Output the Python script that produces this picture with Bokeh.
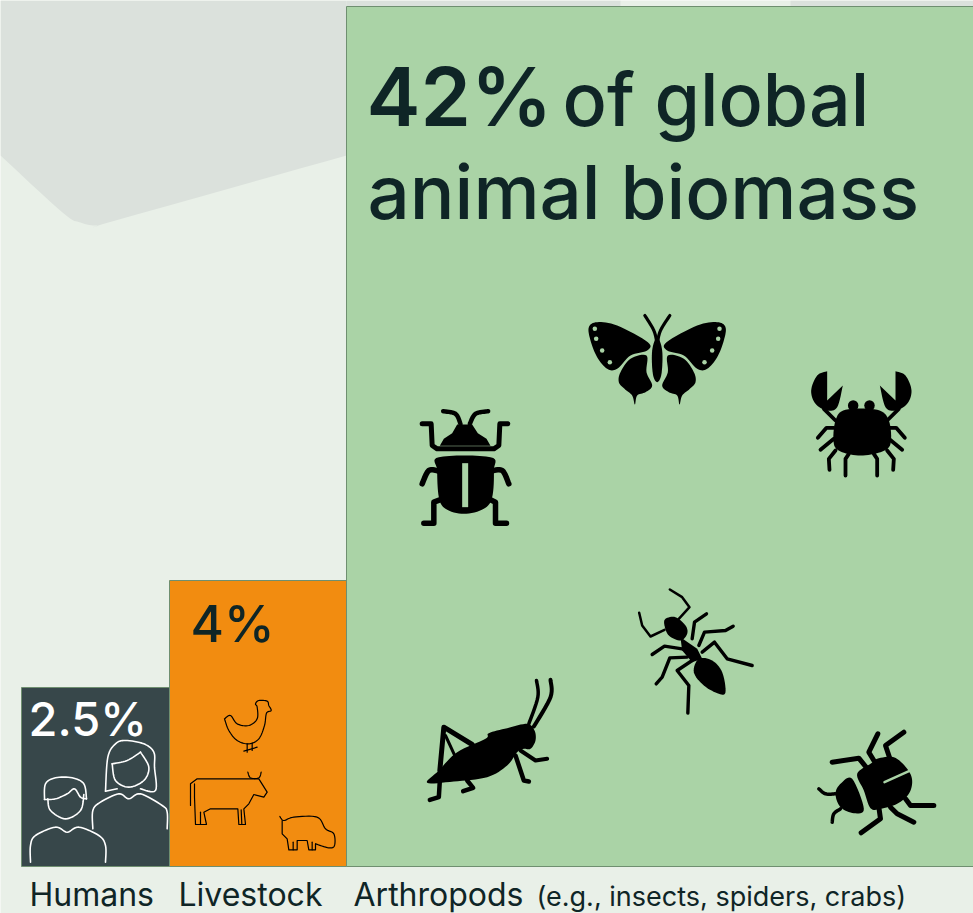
from bokeh.plotting import figure
from bokeh.models import Range1d
from bokeh.core.properties import value
from bokeh.embed import file_html
from bokeh.resources import INLINE

# Data
categories = ["Humans", "Livestock", "Arthropods"]
percent_labels = ["2.5%", "4%", "42%"]
bar_width = [148, 177, 628]
bar_height = [179, 286, 860]
bar_colors = ["#37474A", "#F28C10", "#AAD3A6"]

BG = "#E9F0E8"
SHADE = "#DBE1DC"
DARK = "#0F2526"
EDGE = "#6F8F70"
GREEN = "#AAD3A6"
FONT = "Inter Medium"
W, H = 973, 913
BASE_Y = 866
START_X = 21

p = figure(width=W, height=H, x_range=Range1d(0, W), y_range=Range1d(H, 0),
           output_backend="svg", toolbar_location=None, min_border=0,
           background_fill_color=BG, border_fill_color=BG, outline_line_color=None)
p.axis.visible = False
p.grid.visible = False
p.styles = {"position": "absolute", "left": "0px", "top": "0px"}


def smooth(pts, closed=False, n=8):
    if closed:
        q = [pts[-1]] + list(pts) + [pts[0], pts[1]]
    else:
        q = [pts[0]] + list(pts) + [pts[-1]]
    out = []
    for i in range(1, len(q) - 2):
        a, b, c, d = q[i - 1], q[i], q[i + 1], q[i + 2]
        for k in range(n):
            t = k / n
            f = lambda u: 0.5 * (2 * b[u] + (c[u] - a[u]) * t + (2 * a[u] - 5 * b[u] + 4 * c[u] - d[u]) * t * t
                                 + (3 * b[u] - a[u] - 3 * c[u] + d[u]) * t ** 3)
            out.append((f(0), f(1)))
    out.append(q[-2])
    return out


def stroke(o, pts, w, color="black", sm=False):
    if sm:
        pts = smooth(pts)
    p.line([o[0] + a / 3 for a, _ in pts], [o[1] + b / 3 for _, b in pts], line_width=w, line_color=color,
           line_cap="round", line_join="round")


def blob(o, pts, color="black", sm=True):
    if sm:
        pts = smooth(pts, closed=True)
    p.patch([o[0] + a / 3 for a, _ in pts], [o[1] + b / 3 for _, b in pts], fill_color=color, line_color=None)


def mirror(pts, s):
    return [(s - a, b) for a, b in pts]


# Background shapes
tip = smooth([(0, 155), (62, 212), (80, 222), (97, 225), (115, 220), (346, 155)])
p.patch([0, 346] + [346] + [a for a, _ in reversed(tip)], [0, 0] + [155] + [b for _, b in reversed(tip)],
        fill_color=SHADE, line_color=None)
p.quad(left=[346, 790], right=[620, 973], top=[0, 0], bottom=[7, 7], fill_color=SHADE, line_color=None)

# Bars
lefts, x = [], START_X
for w in bar_width:
    lefts.append(x)
    x += w
rights = [a + w for a, w in zip(lefts, bar_width)]
tops = [BASE_Y - h for h in bar_height]
p.quad(left=lefts, right=rights, top=tops, bottom=[BASE_Y] * 3, fill_color=bar_colors, line_color=EDGE, line_width=1)


def text(x, y, s, size, color=DARK, font=FONT):
    p.text(x=[x], y=[y - 0.38 * size], text=[s], text_font=value(font), text_font_size=f"{size}px", text_color=color,
           text_baseline="alphabetic", text_align="left")


# Texts
text(366, 127, percent_labels[2], 81, font="Inter SemiBold")
text(562, 127, "of global", 73.5)
text(367, 220, "animal biomass", 74.5)
text(190, 642, percent_labels[1], 51)
text(28, 736, percent_labels[0], 47, "white")
text(29, 906, categories[0], 32, font="Inter")
text(178, 906, categories[1], 32, font="Inter")
text(353, 906, categories[2], 32, font="Inter")
text(536, 906, "(e.g., insects, spiders, crabs)", 27, font="Inter")

# People
o = (0, 570)
WL = 1.6
stroke(o, [(142, 685), (150, 720), (195, 745), (240, 720), (250, 672)], WL, "white", True)
stroke(o, [(132, 687), (135, 640), (165, 622), (215, 622), (250, 640), (258, 685)], WL, "white", True)
stroke(o, [(132, 687), (165, 685), (200, 670), (222, 655), (240, 680), (258, 685)], WL, "white", True)
stroke(o, [(90, 875), (90, 825), (105, 795), (165, 770), (200, 785), (235, 770), (295, 795), (315, 825), (315, 875)], WL, "white", True)
stroke(o, [(315, 662), (322, 560), (345, 520), (375, 510), (430, 520), (460, 545), (462, 590), (465, 660), (420, 655)], WL, "white", True)
stroke(o, [(315, 662), (350, 655)], WL, "white")
stroke(o, [(335, 580), (345, 630), (385, 650), (430, 630), (445, 590), (420, 545)], WL, "white", True)
stroke(o, [(335, 580), (380, 570), (420, 545)], WL, "white", True)
stroke(o, [(277, 775), (277, 720), (300, 695), (355, 670), (385, 685), (420, 670), (485, 705), (500, 725), (500, 775)], WL, "white", True)

# Chicken, cow, pig
BL = 1.2
stroke(o, [(672, 445), (690, 435), (710, 460), (745, 465), (770, 445), (770, 410), (765, 400), (775, 390), (800, 392),
           (805, 405), (812, 420), (798, 428), (792, 465), (775, 505), (745, 520), (710, 510), (685, 480), (672, 445)], BL, "black", True)
stroke(o, [(740, 520), (740, 545)], BL)
stroke(o, [(755, 518), (755, 540)], BL)
stroke(o, [(730, 542), (770, 530)], BL)
stroke(o, [(570, 705), (570, 640), (590, 625), (745, 625), (775, 625), (800, 665), (790, 680), (760, 672), (745, 700), (730, 715),
           (735, 762), (715, 762), (712, 715), (630, 715), (610, 725), (618, 762), (585, 762), (582, 680), (582, 640)], BL)
stroke(o, [(600, 725), (600, 762)], BL)
stroke(o, [(722, 718), (724, 762)], BL)
stroke(o, [(742, 605), (750, 622), (775, 622), (782, 605)], BL, "black", True)
stroke(o, [(838, 738), (850, 750), (880, 740), (950, 740), (975, 775), (1000, 790), (1002, 825), (985, 832), (945, 820)], BL, "black", True)
stroke(o, [(945, 820), (945, 838), (925, 838), (920, 810), (890, 810), (890, 838), (865, 838), (860, 805), (845, 790), (845, 750)], BL)
stroke(o, [(878, 815), (878, 838)], BL)
stroke(o, [(935, 815), (935, 838)], BL)

# Beetle and butterfly
o = (400, 300)
blob(o, [(115, 470), (270, 470), (280, 510), (275, 590), (250, 625), (190, 640), (135, 625), (115, 590), (110, 510)])
p.quad(left=[400 + 185 / 3], right=[400 + 203 / 3], top=[300 + 488 / 3], bottom=[300 + 620 / 3], fill_color=GREEN, line_color=None)
blob(o, [(118, 436), (130, 415), (155, 398), (170, 372), (215, 372), (232, 398), (258, 415), (270, 436)], sm=False)
stroke(o, [(180, 370), (165, 340), (128, 332)], 4.5, "black", True)
stroke(o, [(208, 370), (225, 340), (263, 332)], 4.5, "black", True)
stroke(o, [(65, 370), (92, 370), (95, 435), (110, 445), (280, 445), (295, 435), (298, 370), (322, 370)], 5)
stroke(o, [(115, 512), (85, 510), (65, 550)], 5.5, "black", True)
stroke(o, [(270, 512), (305, 510), (325, 550)], 5.5, "black", True)
stroke(o, [(118, 598), (100, 605), (100, 668), (70, 668)], 5.5)
stroke(o, [(270, 598), (285, 605), (285, 668), (318, 668)], 5.5)

wing_up = [(565, 80), (590, 65), (650, 75), (742, 125), (740, 150), (690, 165), (650, 205), (620, 205), (590, 170), (570, 120)]
wing_low = [(738, 165), (690, 175), (660, 215), (655, 245), (672, 265), (695, 285), (703, 312), (710, 285), (735, 275), (755, 255), (738, 215)]
for w in (wing_up, wing_low):
    blob(o, w)
    blob(o, mirror(w, 1540))
blob(o, [(770, 110), (785, 150), (783, 220), (770, 245), (757, 220), (755, 150)])
stroke(o, [(733, 45), (760, 90), (770, 130)], 3.2, "black", True)
stroke(o, [(808, 45), (780, 90), (770, 130)], 3.2, "black", True)
dot_x = [583, 587, 605, 628, 957, 953, 935, 912]
dot_y = [85, 115, 150, 185, 85, 115, 150, 185]
p.scatter([400 + a / 3 for a in dot_x], [300 + b / 3 for b in dot_y], size=4.5, fill_color=GREEN, line_color=None)

# Crab
o = (720, 350)
blob(o, [(345, 210), (375, 178), (470, 178), (505, 210), (510, 280), (480, 305), (420, 315), (365, 305), (340, 280)])
p.scatter([720 + 398 / 3, 720 + 447 / 3], [350 + 165 / 3] * 2, size=10.5, fill_color="black", line_color=None)
outer = smooth([(320, 62), (290, 75), (272, 120), (285, 160), (320, 180), (350, 170), (367, 105)])
claw = outer + [(320, 150)]
for pts in (claw, mirror(claw, 845)):
    blob(o, pts, sm=False)
for pts in ([(310, 175), (345, 210)], [(340, 232), (318, 232), (292, 262)], [(340, 265), (300, 298)],
            [(345, 300), (325, 325), (327, 358)], [(385, 310), (375, 325), (375, 375)]):
    stroke(o, pts, 3.8)
    stroke(o, mirror(pts, 845), 3.8)

# Grasshopper
o = (410, 580)
blob(o, [(50, 607), (85, 570), (140, 515), (225, 475), (235, 458), (290, 443), (350, 430), (372, 450), (375, 480), (360, 505),
         (340, 505), (320, 515), (290, 555), (230, 590), (130, 603)])
stroke(o, [(88, 570), (100, 440), (185, 492)], 5)
stroke(o, [(105, 465), (135, 530)], 3)
stroke(o, [(88, 600), (85, 650), (58, 658)], 4.5)
stroke(o, [(170, 600), (188, 622), (158, 632)], 4.5)
stroke(o, [(315, 525), (340, 600), (355, 603)], 4.5)
stroke(o, [(330, 510), (375, 540), (410, 535)], 4)
stroke(o, [(355, 430), (382, 350), (378, 300)], 3.5, "black", True)
stroke(o, [(370, 438), (420, 350), (420, 298)], 4, "black", True)

# Ant
blob(o, [(765, 115), (795, 110), (825, 135), (830, 160), (810, 180), (775, 165), (762, 135)])
blob(o, [(810, 170), (860, 205), (875, 235), (845, 245), (815, 210)], sm=False)
blob(o, [(865, 235), (905, 240), (935, 275), (945, 335), (925, 340), (880, 315), (850, 275)])
stroke(o, [(805, 115), (837, 80), (815, 50), (778, 27)], 2.5)
stroke(o, [(762, 148), (720, 168), (695, 135), (686, 97)], 2.5)
for pts in ([(845, 175), (852, 125), (888, 100)], [(865, 195), (882, 155), (945, 150), (968, 137)],
            [(875, 215), (912, 185), (950, 235), (1025, 255)], [(815, 205), (762, 197), (725, 222)],
            [(830, 230), (778, 232), (755, 290), (737, 310)], [(845, 240), (800, 270), (835, 315), (832, 398)]):
    stroke(o, pts, 3.4)

# Bug
o = (790, 710)
blob(o, [(200, 190), (240, 160), (260, 145), (310, 140), (350, 175), (365, 210), (355, 250), (320, 280), (270, 295), (240, 293), (220, 240)])
stroke(o, [(357, 181), (282, 215)], 2.5, GREEN)
blob(o, [(185, 205), (220, 295), (190, 308), (150, 290), (135, 250), (150, 220)])
for pts in ([(125, 155), (205, 143), (235, 180)], [(250, 150), (235, 125), (262, 70)], [(300, 150), (285, 105), (340, 65)],
            [(345, 265), (360, 285), (430, 285)], [(300, 290), (320, 310), (370, 335)], [(265, 290), (270, 325), (212, 367)]):
    stroke(o, pts, 5)
stroke(o, [(85, 235), (105, 250), (135, 250)], 3.5, "black", True)
stroke(o, [(150, 295), (130, 310), (125, 335)], 3.5, "black", True)

open("out.html", "w").write(file_html(p, INLINE))
